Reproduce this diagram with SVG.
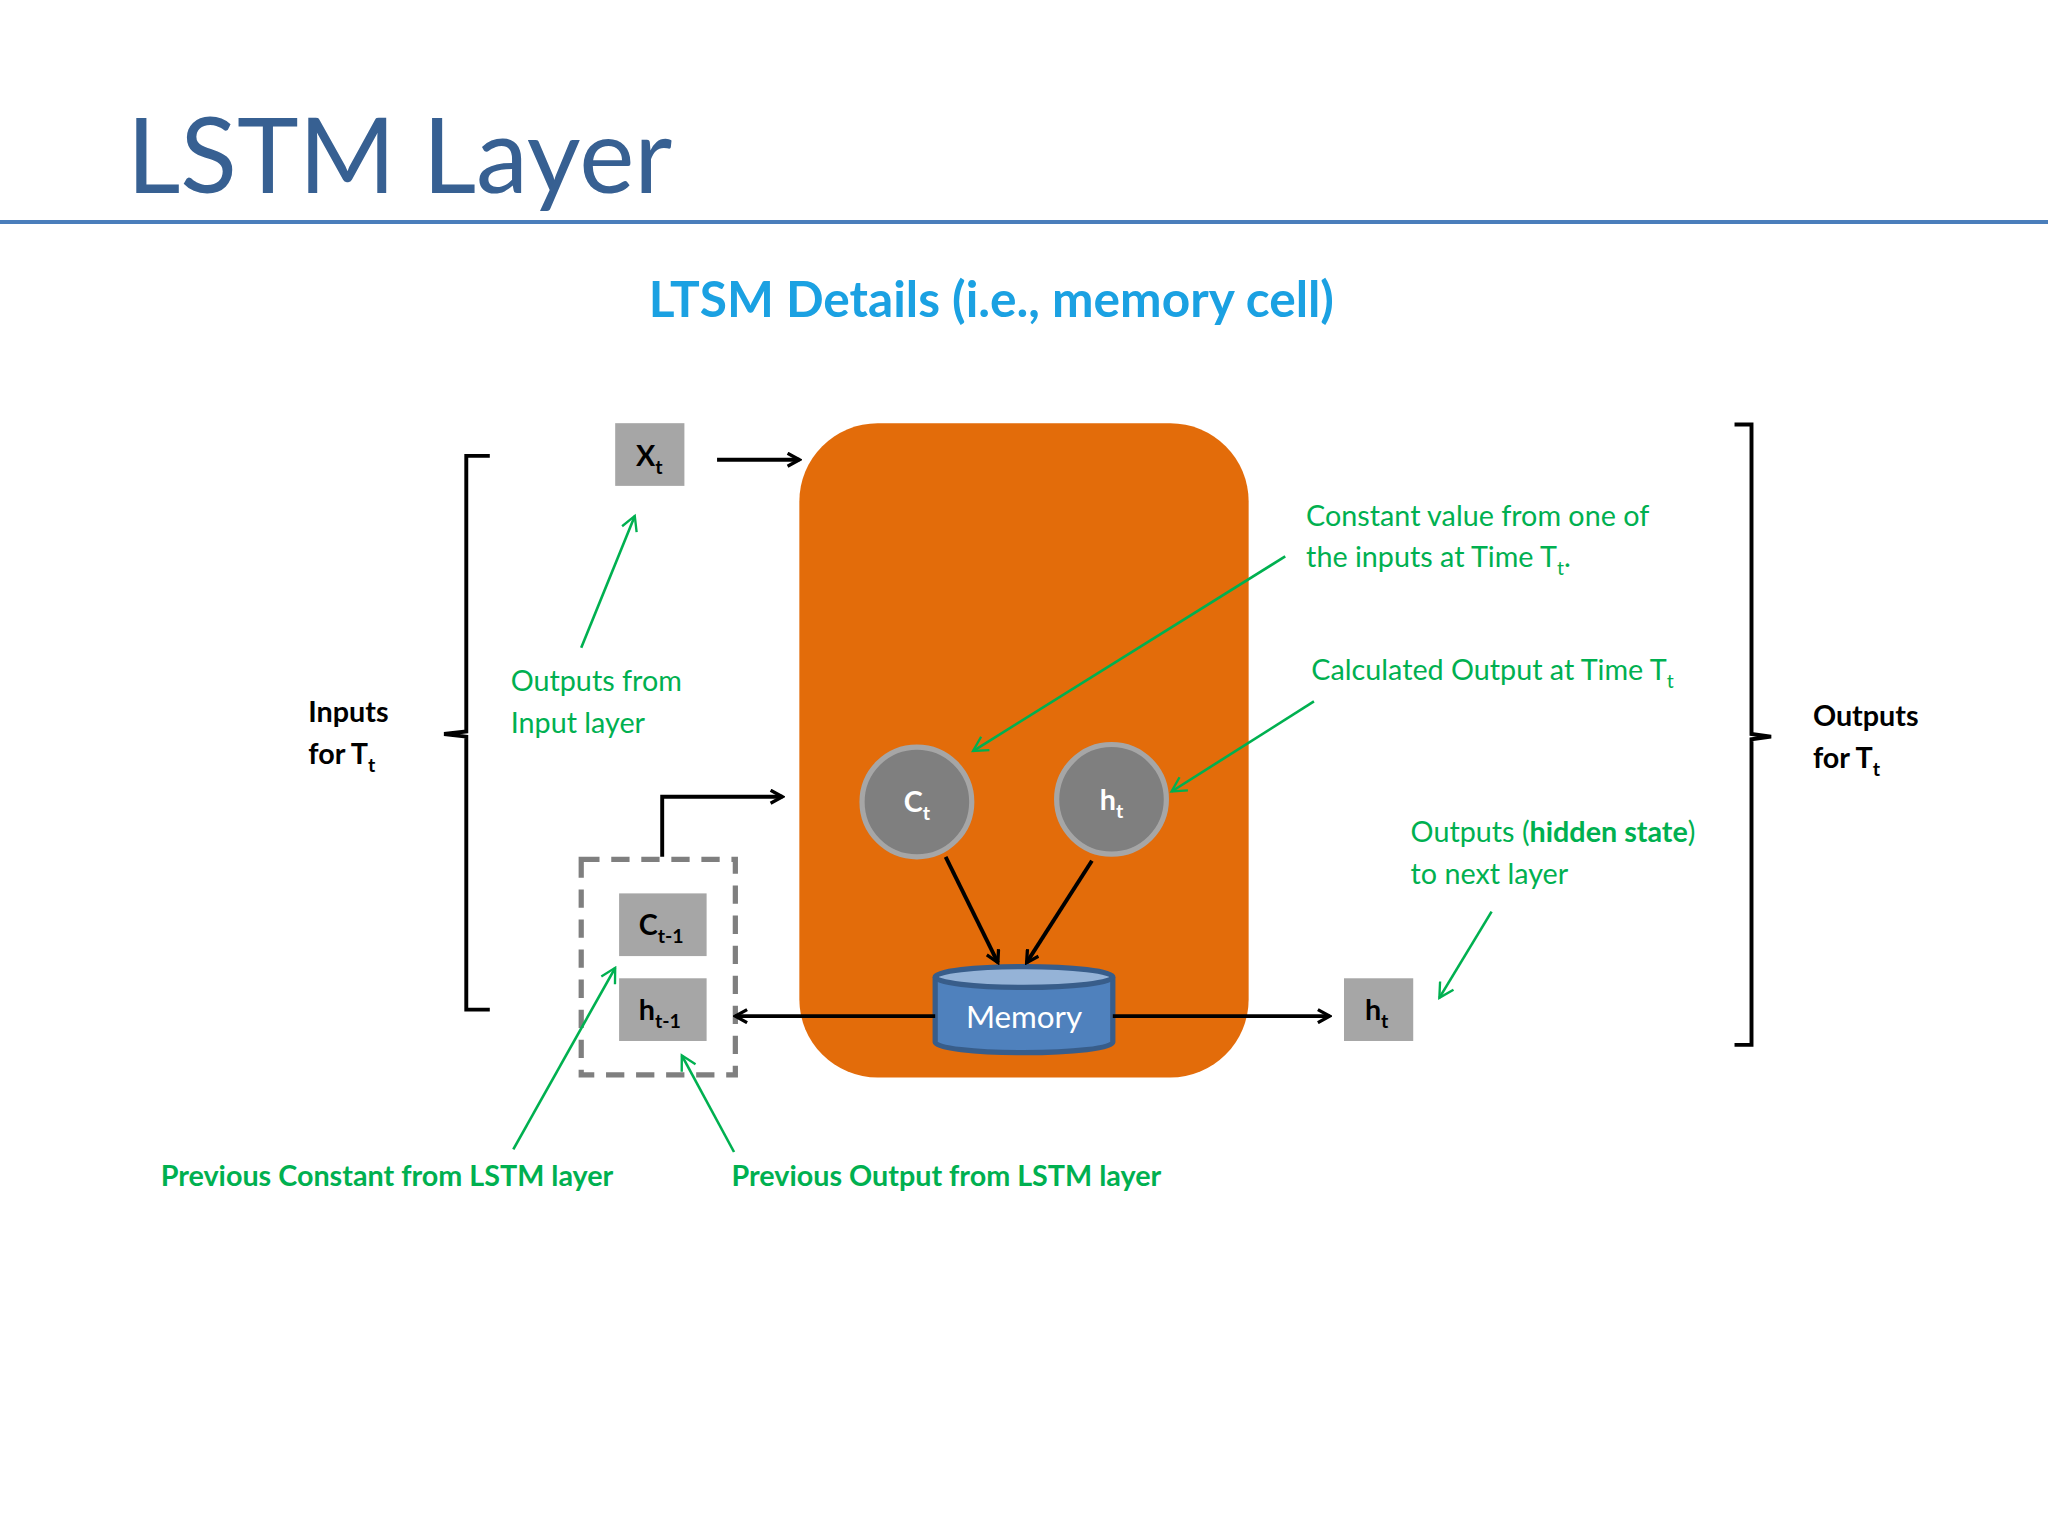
<svg xmlns="http://www.w3.org/2000/svg" width="2048" height="1536" viewBox="0 0 2048 1536">
<defs>
<marker id="ab" markerWidth="12" markerHeight="12" refX="10" refY="6" orient="auto" markerUnits="userSpaceOnUse"><path d="M1,1 L10,6 L1,11" fill="none" stroke="#000" stroke-width="2.5"/></marker>
<marker id="ag" markerWidth="14" markerHeight="14" refX="12" refY="7" orient="auto" markerUnits="userSpaceOnUse"><path d="M1,1 L12,7 L1,13" fill="none" stroke="#00B050" stroke-width="1.8"/></marker>
<style>
text{font-family:Lato,"Open Sans",sans-serif}
.g{fill:#00B050;font-size:22px}
.b{font-weight:bold}
.k{fill:#000;font-size:22px;font-weight:bold}
.bl{stroke:#000;stroke-width:3;fill:none;marker-end:url(#ab)}
.gl{stroke:#00B050;stroke-width:2;fill:none;marker-end:url(#ag)}
.box{fill:#A6A6A6}
.bt{font-size:22px;font-weight:bold;fill:#000}
</style>
</defs>
<rect width="2048" height="1536" fill="#fff"/>
<g transform="scale(1.30612)">
<g id="title">
<text x="97" y="148" font-size="80" fill="#376092">LSTM Layer</text>
<line x1="0" y1="170" x2="1568" y2="170" stroke="#4A7EBB" stroke-width="3"/>
<text x="759" y="243" font-size="38" font-weight="bold" fill="#1BA1E2" text-anchor="middle">LTSM Details (i.e., memory cell)</text>
</g>
<g id="cell"><rect x="612" y="324" width="344" height="501" rx="60" fill="#E36C0A"/></g>
<g id="xt"><rect class="box" x="471" y="324" width="53" height="48"/><text class="bt" x="487" y="357">X<tspan font-size="15" dy="6">t</tspan></text></g>
<g id="ct"><circle cx="702" cy="614" r="42" fill="#7F7F7F" stroke="#A6A6A6" stroke-width="4"/><text x="692" y="622" font-size="22" font-weight="bold" fill="#fff">C<tspan font-size="15" dy="6">t</tspan></text></g>
<g id="htc"><circle cx="851" cy="612" r="42" fill="#7F7F7F" stroke="#A6A6A6" stroke-width="4"/><text x="842" y="620" font-size="22" font-weight="bold" fill="#fff">h<tspan font-size="15" dy="6">t</tspan></text></g>
<g id="memory">
<path d="M716,748 L716,798 A68,8 0 0 0 852,798 L852,748" fill="#4F81BD" stroke="#385D8A" stroke-width="4"/>
<ellipse cx="784" cy="748" rx="68" ry="8" fill="#95B3D7" stroke="#385D8A" stroke-width="4"/>
<text x="784" y="787" font-size="24" fill="#fff" text-anchor="middle">Memory</text>
</g>
<g id="prev">
<rect x="445" y="658" width="118" height="165" fill="none" stroke="#7F7F7F" stroke-width="4" stroke-dasharray="14,9"/>
<rect class="box" x="474" y="684" width="67" height="48"/><text class="bt" x="489" y="716">C<tspan font-size="15" dy="6">t-1</tspan></text>
<rect class="box" x="474" y="749" width="67" height="48"/><text class="bt" x="489" y="781">h<tspan font-size="15" dy="6">t-1</tspan></text>
</g>
<g id="htout"><rect class="box" x="1029" y="749" width="53" height="48"/><text class="bt" x="1045" y="781">h<tspan font-size="15" dy="6">t</tspan></text></g>
<g id="brackets" fill="none" stroke="#000" stroke-width="3">
<path d="M375,349 L357,349 L357,560 L340,562 L357,564 L357,773 L375,773"/>
<path d="M1328,325 L1341,325 L1341,562 L1356,564 L1341,566 L1341,800 L1328,800"/>
</g>
<g id="labels">
<text class="k" x="236" y="553">Inputs</text><text class="k" x="236" y="585">for T<tspan font-size="15" dy="6">t</tspan></text>
<text class="k" x="1388" y="556">Outputs</text><text class="k" x="1388" y="588">for T<tspan font-size="15" dy="6">t</tspan></text>
<text class="g" x="391" y="529">Outputs from</text><text class="g" x="391" y="561">Input layer</text>
<text class="g" x="1000" y="403">Constant value from one of</text>
<text class="g" x="1000" y="434">the inputs at Time T<tspan font-size="15" dy="6">t</tspan><tspan dy="-6">.</tspan></text>
<text class="g" x="1004" y="521">Calculated Output at Time T<tspan font-size="15" dy="6">t</tspan></text>
<text class="g" x="1080" y="645">Outputs (<tspan class="b">hidden state</tspan>)</text>
<text class="g" x="1080" y="677">to next layer</text>
<text class="g b" x="123" y="908">Previous Constant from LSTM layer</text>
<text class="g b" x="560" y="908">Previous Output from LSTM layer</text>
</g>
<g id="connectors">
<line class="bl" x1="549" y1="352" x2="612" y2="352"/>
<path class="bl" d="M507,656 L507,610 L599,610"/>
<line class="bl" x1="724" y1="656" x2="764" y2="737"/>
<line class="bl" x1="836" y1="659" x2="786" y2="737"/>
<line class="bl" x1="716" y1="778" x2="563" y2="778"/>
<line class="bl" x1="852" y1="778" x2="1018" y2="778"/>
<line class="gl" x1="445" y1="496" x2="486" y2="395"/>
<line class="gl" x1="984" y1="426" x2="745" y2="575"/>
<line class="gl" x1="1006" y1="537" x2="897" y2="606"/>
<line class="gl" x1="1142" y1="698" x2="1102" y2="764"/>
<line class="gl" x1="393" y1="880" x2="471" y2="741"/>
<line class="gl" x1="562" y1="882" x2="522" y2="808"/>
</g>
</g>
</svg>
